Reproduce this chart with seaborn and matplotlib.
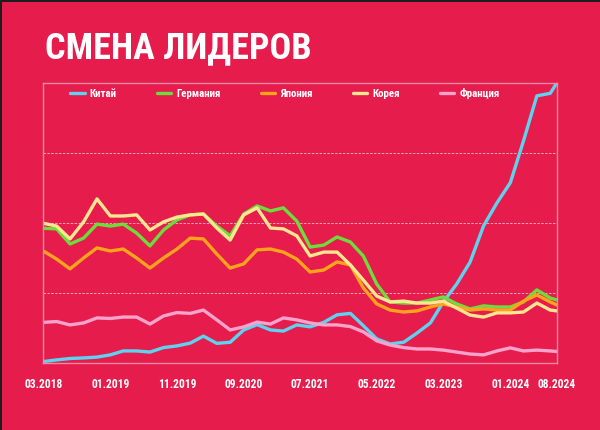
import os
import numpy as np
import pandas as pd
import matplotlib
matplotlib.use("Agg")
import matplotlib.pyplot as plt
import seaborn as sns
from matplotlib import font_manager as fm
from matplotlib.patches import Rectangle

# ---------------- data (index values) ----------------
dates = pd.date_range("2018-03-01", periods=39, freq="2MS").append(pd.DatetimeIndex(["2024-08-01"]))

china = [0.4, 1.0, 1.5, 1.7, 2.0, 2.8, 4.2, 4.2, 3.8, 5.4,
         6.0, 7.0, 9.5, 6.9, 7.3, 11.7, 13.6, 11.7, 11.3, 13.5,
         12.8, 14.4, 17.1, 17.6, 13.2, 8.5, 6.7, 7.3, 10.6, 14.2,
         21.7, 28.1, 35.9, 48.9, 57.1, 64.3, 79.2, 95.3, 96.2, 100.0]
germany = [48.0, 47.8, 42.4, 44.5, 49.5, 48.8, 49.5, 46.3, 41.7, 47.4,
           51.0, 52.8, 53.1, 48.8, 45.3, 53.1, 56.0, 54.2, 55.3, 50.6,
           41.3, 42.0, 44.9, 43.1, 38.1, 28.1, 21.7, 21.3, 21.3, 22.4,
           23.5, 21.0, 19.2, 20.3, 19.9, 19.9, 21.7, 26.0, 23.1, 22.4]
japan = [39.9, 37.0, 33.5, 37.4, 41.0, 39.9, 40.6, 37.4, 33.8, 37.4,
         40.6, 44.5, 44.2, 38.8, 33.8, 35.3, 40.3, 40.6, 39.5, 37.0,
         32.4, 33.1, 36.0, 34.9, 26.7, 21.0, 18.8, 18.1, 18.5, 19.9,
         21.0, 19.9, 18.8, 19.2, 18.8, 18.8, 22.0, 24.2, 21.7, 20.6]
korea = [49.8, 48.8, 44.2, 50.3, 58.5, 52.4, 52.4, 52.8, 47.4, 50.3,
         52.0, 52.8, 53.1, 48.1, 43.8, 52.8, 55.3, 48.1, 47.8, 45.3,
         38.1, 39.5, 39.5, 34.9, 29.5, 23.8, 21.7, 22.0, 21.3, 21.3,
         22.0, 19.5, 17.0, 16.3, 17.8, 17.8, 18.1, 21.3, 18.8, 18.5]
france = [14.4, 14.7, 13.5, 14.2, 16.0, 15.8, 16.3, 16.3, 13.8, 16.7,
          17.9, 17.6, 18.8, 15.3, 11.7, 12.8, 14.5, 13.8, 16.0, 15.3,
          14.2, 13.5, 13.5, 12.9, 11.0, 7.8, 6.3, 5.4, 4.9, 4.9,
          4.5, 3.8, 3.1, 2.8, 4.2, 5.3, 4.2, 4.5, 4.2, 4.0]

countries = ["Китай", "Германия", "Япония", "Корея", "Франция"]
tick_dates = ["2018-03-01", "2019-01-01", "2019-11-01", "2020-09-01", "2021-07-01",
              "2022-05-01", "2023-03-01", "2024-01-01", "2024-08-01"]
tick_labels = ["03.2018", "01.2019", "11.2019", "09.2020", "07.2021",
               "05.2022", "03.2023", "01.2024", "08.2024"]
title = "СМЕНА ЛИДЕРОВ"

# ---------------- styling ----------------
BG = "#E51C4C"
colors = {"Китай": "#5ED3F0", "Германия": "#6EDC3C", "Япония": "#FFA31C",
          "Корея": "#FFE690", "Франция": "#F8A3CB"}

sns.set_theme(style="white")
plt.rcParams["font.family"] = ["Roboto", "DejaVu Sans"]


def pick_font():
    prefs = ["robotocondensed-bold", "liberationsansnarrow-bold", "dejavusanscondensed-bold",
             "opensans_condensed-bold", "opensanscondensed-bold", "notosans-condensedbold"]
    files = {}
    for f in fm.fontManager.ttflist:
        b = os.path.basename(f.fname).lower()
        files[b] = f.fname
    for p in prefs:
        for b, path in files.items():
            if b.startswith(p) and "italic" not in b and "oblique" not in b:
                return fm.FontProperties(fname=path)
    for b, path in files.items():
        if ("condensed" in b or "narrow" in b) and "bold" in b and "italic" not in b and "oblique" not in b:
            return fm.FontProperties(fname=path)
    return fm.FontProperties(family=["Roboto", "DejaVu Sans"], weight="bold")


base_fp = pick_font()


def fp(size):
    p = base_fp.copy()
    p.set_size(size)
    return p


wide = pd.DataFrame({"date": dates, "Китай": china, "Германия": germany,
                     "Япония": japan, "Корея": korea, "Франция": france})
df = wide.melt(id_vars="date", var_name="country", value_name="value")

fig = plt.figure(figsize=(6, 4.3), dpi=100, facecolor=BG)
ax = fig.add_axes([43.3 / 600, 1 - 362.7 / 430, (557 - 43.3) / 600, 280 / 430])
ax.set_facecolor(BG)

sns.lineplot(data=df, x="date", y="value", hue="country", hue_order=countries,
             palette=colors, linewidth=2.4, ax=ax, legend=True)
for ln in ax.get_lines():
    ln.set_solid_capstyle("round")
    ln.set_solid_joinstyle("round")

ax.set_xlim(dates[0], dates[-1])
ax.set_ylim(0, 100)
ax.set_yticks([25, 50, 75])
ax.set_yticklabels([])
ax.yaxis.grid(True, linestyle=(0, (2.5, 1.5)), color="#F3A6BA", linewidth=0.7)
ax.xaxis.grid(False)
ax.set_axisbelow(True)
ax.tick_params(axis="both", length=0)
ax.set_xticks(pd.to_datetime(tick_dates))
ax.set_xticklabels(tick_labels, color="white", fontproperties=fp(8.3))
ax.tick_params(axis="x", pad=11)
ax.set_xlabel("")
ax.set_ylabel("")
for s in ax.spines.values():
    s.set_visible(True)
    s.set_color("#EE8AA4")
    s.set_linewidth(1.0)

handles, labels = ax.get_legend_handles_labels()
leg = ax.legend(handles, labels, ncol=5, loc="center left", bbox_to_anchor=(0.052, 0.963),
                frameon=False, handlelength=1.35, handletextpad=0.45, columnspacing=3.7,
                borderpad=0, borderaxespad=0, prop=fp(7.8))
for t in leg.get_texts():
    t.set_color("white")

fig.text(45 / 600, 1 - 48 / 430, title, ha="left", va="center", color="white",
         fontproperties=fp(26))

# dark outer edge on the left and top of the picture
fig.add_artist(Rectangle((0, 0), 2 / 600, 1, transform=fig.transFigure, color="#1E1E1E", lw=0))
fig.add_artist(Rectangle((0, 1 - 2 / 430), 1, 2 / 430, transform=fig.transFigure, color="#1E1E1E", lw=0))

fig.savefig("out.png", dpi=100, facecolor=BG)
